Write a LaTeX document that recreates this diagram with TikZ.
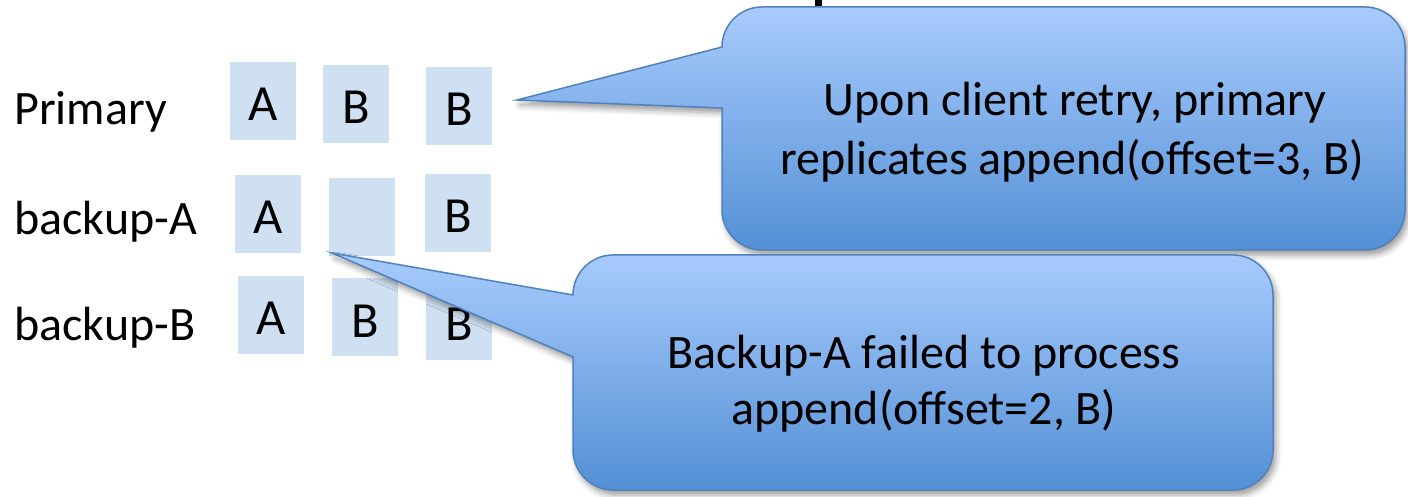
\documentclass[tikz,border=0pt]{standalone}
\usepackage{fontspec}
\setmainfont{Carlito}
\usetikzlibrary{shadows.blur}
\definecolor{cellblue}{RGB}{207,224,242}
\definecolor{bubbletop}{RGB}{168,203,253}
\definecolor{bubblebot}{RGB}{83,144,213}
\definecolor{bubbleedge}{RGB}{79,129,189}
\begin{document}
\begin{tikzpicture}[x=0.5pt,y=-0.5pt,
  every node/.style={font=\fontsize{24}{29}\selectfont, inner sep=0pt},
  cell/.style={fill=cellblue, minimum width=33pt, minimum height=39pt,
               font=\fontsize{25.3}{30}\selectfont,
               text height=20pt, text depth=0pt},
  rowlabel/.style={anchor=base west},
  bubble/.style={draw=bubbleedge, line width=0.75pt,
                 top color=bubbletop, bottom color=bubblebot,
                 blur shadow={shadow xshift=1.5pt, shadow yshift=-2.5pt,
                              shadow blur radius=3pt, shadow opacity=40}},
  bubbletext/.style={anchor=base}
]
\useasboundingbox (0,0) rectangle (1408,497);

% fragment of the heading above the frame
\fill[black] (815,0) rectangle (822,7);

% row labels
\node[rowlabel] (lprimary) at (14,125) {Primary};
\node[rowlabel] (lbackupa) at (14,235) {backup-A};
\node[rowlabel] (lbackupb) at (14,340) {backup-B};

% log slots
\node[cell] (p1) at (263,101) {A};
\node[cell] (p2) at (356,104) {B};
\node[cell] (p3) at (459,106) {B};

\node[cell] (a1) at (268,214) {A};
\node[cell] (a2) at (362,217) {};
\node[cell] (a3) at (458,213) {B};

\node[cell] (b1) at (271,315) {A};
\node[cell] (b2) at (365,317) {B};
\node[cell] (b3) at (459,321) {B};

% callout pointing at the primary log
\coordinate (tipone) at (517,100);
\path[bubble] (722,47) -- (tipone) -- (722,108) -- (722,210)
  .. controls (722,232) and (740,250) .. (762,250) -- (1365,250)
  .. controls (1387,250) and (1405,232) .. (1405,210) -- (1405,47)
  .. controls (1405,25) and (1387,7) .. (1365,7) -- (762,7)
  .. controls (740,7) and (722,25) .. (722,47) -- cycle;
\node[bubbletext] (c1a) at (1075,116) {Upon client retry, primary};
\node[bubbletext] (c1b) at (1072,175) {replicates append(offset=3, B)};

% callout pointing at the missing slot of backup-A
\coordinate (tiptwo) at (332,253);
\path[bubble] (573,295) -- (tiptwo) -- (573,357) -- (573,450)
  .. controls (573,472) and (591,490) .. (613,490) -- (1233,490)
  .. controls (1255,490) and (1273,472) .. (1273,450) -- (1273,295)
  .. controls (1273,273) and (1255,255) .. (1233,255) -- (613,255)
  .. controls (591,255) and (573,273) .. (573,295) -- cycle;
\node[bubbletext] (c2a) at (924,368) {Backup-A failed to process};
\node[bubbletext] (c2b) at (924,424) {append(offset=2, B)};
\end{tikzpicture}
\end{document}
